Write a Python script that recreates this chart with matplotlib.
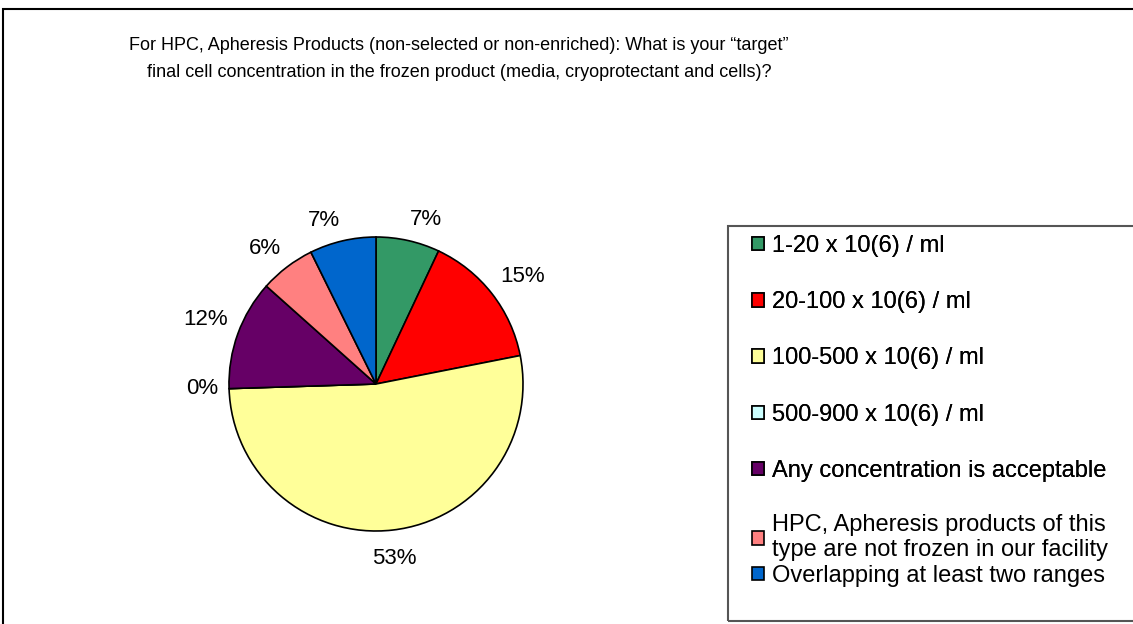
import matplotlib
matplotlib.use('Agg')
import matplotlib.pyplot as plt
import numpy as np
from matplotlib.patches import Rectangle

plt.rcParams['font.family'] = ['Liberation Sans', 'DejaVu Sans']

# data
categories = ['1-20 x 10(6) / ml',
              '20-100 x 10(6) / ml',
              '100-500 x 10(6) / ml',
              '500-900 x 10(6) / ml',
              'Any concentration is acceptable',
              'HPC, Apheresis products of this\ntype are not frozen in our facility',
              'Overlapping at least two ranges']
values = [7.0, 14.9, 52.6, 0.0, 12.1, 6.1, 7.3]
colors = ['#339966', '#FF0000', '#FFFF99', '#CCFFFF', '#660066', '#FF8080', '#0066CC']

title = ('For HPC, Apheresis Products (non-selected or non-enriched): What is your \u201ctarget\u201d\n'
         'final cell concentration in the frozen product (media, cryoprotectant and cells)?')

W, H = 1133, 624
fig = plt.figure(figsize=(W / 100, H / 100), dpi=100)

# outer chart frame (runs off the right and bottom edge)
fig.patches.append(Rectangle((3 / W, -0.1), 1.2, 1 - 9 / H + 0.1, transform=fig.transFigure,
                             fill=False, edgecolor='black', linewidth=1.5))

fig.text(459 / W, 1 - 59 / H, title, ha='center', va='center', fontsize=13, linespacing=1.78)

# pie
cx, cy, r = 376, 384, 147
ax = fig.add_axes([(cx - r) / W, (H - cy - r) / H, 2 * r / W, 2 * r / H])
wedges, texts, autotexts = ax.pie(values, colors=colors, startangle=90, counterclock=False,
                                  autopct='%1.0f%%', pctdistance=1.2,
                                  wedgeprops=dict(edgecolor='black', linewidth=1.2),
                                  textprops=dict(fontsize=16))
ax.set_xlim(-1, 1)
ax.set_ylim(-1, 1)
ax.set_aspect('equal')

# excel style: label box sits just outside the rim
for w, t in zip(wedges, autotexts):
    phi = np.deg2rad((w.theta1 + w.theta2) / 2)
    x, y = np.cos(phi), np.sin(phi)
    d = 1.07 + 0.05 * max(0.0, -y)
    t.set_position((d * x, d * y))
    t.set_ha('left' if x > 0.15 else 'right' if x < -0.15 else 'center')
    t.set_va('bottom' if y > 0.15 else 'top' if y < -0.15 else 'center')

# legend box
fig.patches.append(Rectangle((728 / W, 1 - 621 / H), 0.5, (621 - 226) / H, transform=fig.transFigure,
                             fill=False, edgecolor='#555555', linewidth=1.5))

lkw = dict(loc='upper left', frameon=False, fontsize=17, handlelength=0.5, handleheight=0.5,
           handletextpad=0.35, borderpad=0, borderaxespad=0)
leg1 = fig.legend(wedges[:5], categories[:5], bbox_to_anchor=(752 / W, 1 - 235 / H),
                  labelspacing=1.45, **lkw)
leg2 = fig.legend(wedges[5:], categories[5:], bbox_to_anchor=(752 / W, 1 - 514 / H),
                  labelspacing=0.15, **lkw)
fig.add_artist(leg1)

fig.savefig('out.png', dpi=100)
